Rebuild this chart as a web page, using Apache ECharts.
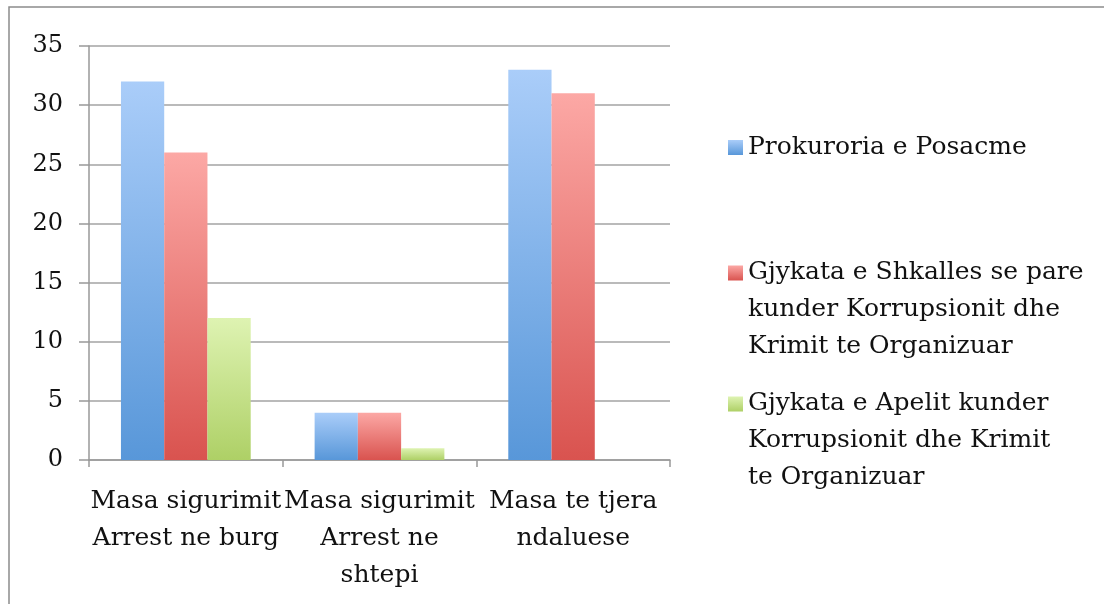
<!DOCTYPE html>
<html>
<head>
<meta charset="utf-8">
<script src="https://cdn.jsdelivr.net/npm/echarts@6/dist/echarts.min.js"></script>
<style>
  html, body { margin: 0; padding: 0; background: #fff; }
  #chart { width: 1104px; height: 604px; }
</style>
</head>
<body>
<div id="chart"></div>
<script>
// kategorite dhe vlerat
var categories = ["Masa sigurimit\nArrest ne burg", "Masa sigurimit\nArrest ne\nshtepi", "Masa te tjera\nndaluese"];
var seriesNames = [
  "Prokuroria e Posacme",
  "Gjykata e Shkalles se pare\nkunder Korrupsionit dhe\nKrimit te Organizuar",
  "Gjykata e Apelit kunder\nKorrupsionit dhe Krimit\nte Organizuar"
];
var prokuroria = [32, 4, 33];
var shkallaPare = [26, 4, 31];
var apeli = [12, 1, 0];
var yTicks = [0, 5, 10, 15, 20, 25, 30, 35];

var font = "DejaVu Serif";
var textColor = "#111";

// ngjyrat: e hapur lart, e erret poshte
var palette = [
  ["#aacdf9", "#5897d9"],
  ["#fca8a5", "#d9534f"],
  ["#def3b2", "#aed066"]
];

function grad(top, bottom, end) {
  return new echarts.graphic.LinearGradient(0, 0, 0, 1, [
    { offset: 0, color: top },
    { offset: end || 1, color: bottom }
  ]);
}

// katrori ne krye, pjesa tjeter bosh qe teksti me shume rreshta te filloje ne nivelin e ikones
var tallIcon = "path://M0,0 L15,0 L15,15 L0,15 Z M0,88";

function legendFor(i, top, multi) {
  return {
    data: [seriesNames[i]],
    orient: "vertical",
    left: 728,
    top: top,
    padding: 0,
    itemWidth: 15,
    itemHeight: multi ? 88 : 15,
    icon: multi ? tallIcon : "rect",
    itemStyle: { color: grad(palette[i][0], palette[i][1], multi ? 15 / 88 : 1) },
    selectedMode: false,
    textStyle: {
      fontFamily: font,
      fontSize: 25,
      color: textColor,
      lineHeight: 37
    }
  };
}

var chart = echarts.init(document.getElementById("chart"));

var series = [prokuroria, shkallaPare, apeli].map(function (vals, i) {
  return {
    name: seriesNames[i],
    type: "bar",
    data: vals,
    barGap: 0,
    barCategoryGap: "33%",
    itemStyle: { color: grad(palette[i][0], palette[i][1]) },
    emphasis: { disabled: true }
  };
});

chart.setOption({
  animation: false,
  graphic: [{
    type: "rect",
    shape: { x: 9, y: 7, width: 1200, height: 700 },
    style: { fill: "none", stroke: "#8c8c8c", lineWidth: 1.5 },
    silent: true
  }],
  legend: [
    legendFor(0, 129, false),
    legendFor(1, 254, true),
    legendFor(2, 385, true)
  ],
  grid: { left: 89, right: 434, top: 46, bottom: 144 },
  xAxis: {
    type: "category",
    data: categories,
    axisLine: { lineStyle: { color: "#999", width: 1.5 } },
    axisTick: { show: true, length: 7, lineStyle: { color: "#999", width: 1.5 } },
    axisLabel: {
      interval: 0,
      margin: 23,
      fontFamily: font,
      fontSize: 25,
      color: textColor,
      lineHeight: 37
    }
  },
  yAxis: {
    type: "value",
    min: yTicks[0],
    max: yTicks[yTicks.length - 1],
    interval: 5,
    axisLine: { show: true, lineStyle: { color: "#999", width: 1.5 } },
    axisTick: { show: true, length: 10, lineStyle: { color: "#999", width: 1.5 } },
    splitLine: { lineStyle: { color: "#a3a3a3", width: 1.5 } },
    axisLabel: {
      margin: 26,
      fontFamily: font,
      fontSize: 24,
      color: textColor
    }
  },
  series: series
});
</script>
</body>
</html>
